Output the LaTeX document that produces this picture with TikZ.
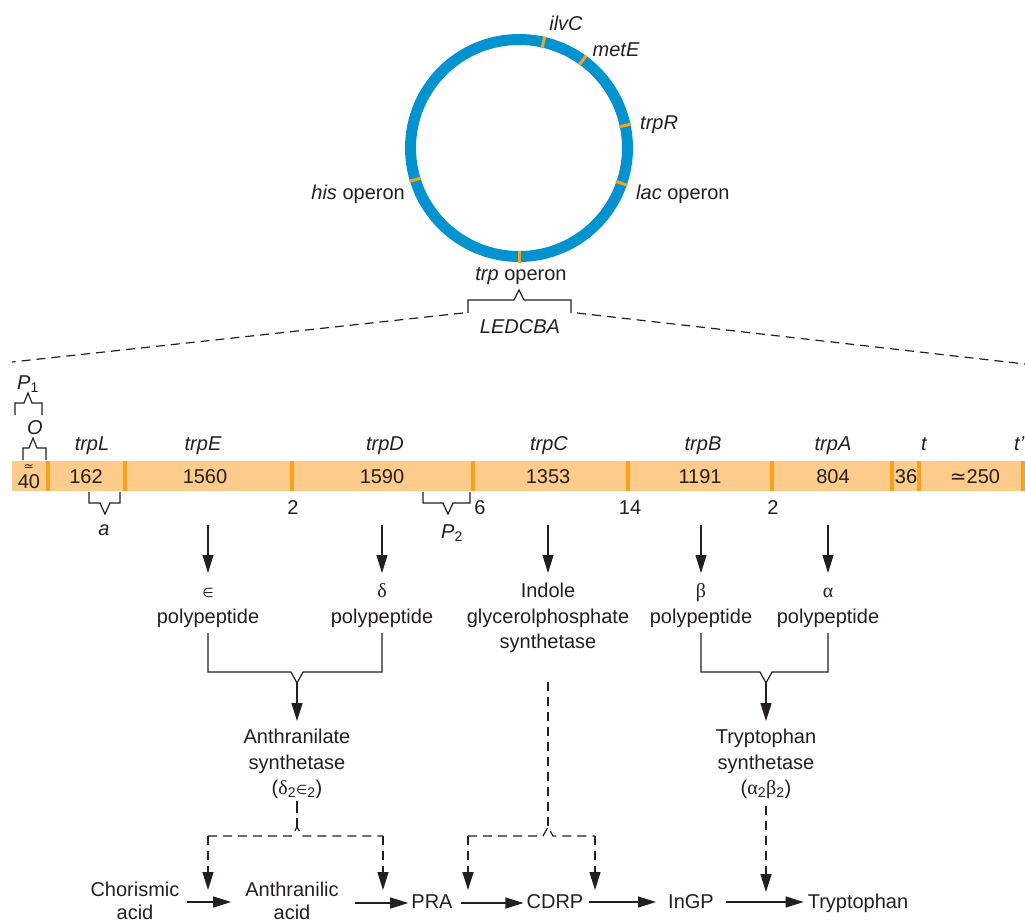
\documentclass[tikz,border=0pt]{standalone}
\usepackage{fontspec}
\setmainfont{Liberation Sans}
\newfontfamily\grk{Liberation Serif}
\newfontfamily\symf{DejaVu Sans}
\usetikzlibrary{arrows.meta}
\definecolor{ink}{HTML}{231F20}
\definecolor{ringblue}{HTML}{0093D0}
\definecolor{markorange}{HTML}{F7A21B}
\definecolor{barfill}{HTML}{FDCB8A}
\newcommand\ElemSym{{\symf\fontsize{13}{13}\selectfont ∈}}
\tikzset{
  txt/.style={text=ink, font=\fontsize{20}{24}\selectfont, inner sep=0pt, anchor=base},
  gene/.style={txt, font=\fontsize{20}{24}\selectfont\itshape},
  ln/.style={draw=ink, line width=1.2pt},
  dln/.style={ln, dash pattern=on 9pt off 6pt},
  arr/.style={ln, -{Triangle[length=18pt,width=11pt]}},
  darr/.style={arr, dash pattern=on 9pt off 6pt},
  divider/.style={draw=markorange, line width=4.5pt},
  locus/.style={draw=markorange, line width=3pt},
}
\begin{document}
\begin{tikzpicture}[x=1pt,y=-1pt]
\useasboundingbox (0,0) rectangle (1025,923);

% ---- circular chromosome ----
\coordinate (c) at (519,148);
\draw[ringblue, line width=11pt] (c) circle[radius=108.5pt];
\foreach \a in {-77,-54,-12,19,90,163}
  \draw[locus] ([shift={(\a:102.5)}]c) -- ([shift={(\a:114.5)}]c);

\node[gene] (ilvc) at (566,31) {ilvC};
\node[gene] (mete) at (616,57) {metE};
\node[gene, anchor=base west] (trpr) at (640,129) {trpR};
\node[txt, anchor=base west] (lac) at (636,199) {\textit{lac} operon};
\node[txt, anchor=base east] (his) at (405,199) {\textit{his} operon};
\node[txt] (trpop) at (521,280) {\textit{trp} operon};
\node[gene] (ledcba) at (520,333) {LEDCBA};

% bracket under the trp operon and the expansion lines
\coordinate (bl) at (468,313);
\coordinate (br) at (571,313);
\draw[ln] (bl) -- (468,300) -- (514,300) -- (519,290) -- (524,300) -- (571,300) -- (br);
\coordinate (fl) at (12,362);
\coordinate (fr) at (1025,364);
\draw[dln] ([xshift=-5]bl) -- (fl);
\draw[dln] ([xshift=6]br) -- (fr);

% ---- operon bar ----
\fill[barfill] (12,461) rectangle (1025,491);
\foreach \x in {48,125,292,473,628,772,892,919,1023}
  \draw[divider] (\x,461) -- (\x,491);

% gene names
\node[gene] (lL) at (92,450) {trpL};
\node[gene] (lE) at (203,450) {trpE};
\node[gene] (lD) at (385,450) {trpD};
\node[gene] (lC) at (549,450) {trpC};
\node[gene] (lB) at (703,450) {trpB};
\node[gene] (lA) at (833,450) {trpA};
\node[gene] (lt) at (924,450) {t};
\node[gene, anchor=base west] (ltp) at (1014,450) {t'};

% segment lengths
\node[txt, font=\fontsize{12}{12}\selectfont\symf] (approx40) at (29,470) {≃};
\node[txt] (n40) at (29,488) {40};
\node[txt] (n162) at (86,483) {162};
\node[txt] (n1560) at (205,483) {1560};
\node[txt] (n1590) at (382,483) {1590};
\node[txt] (n1353) at (548,483) {1353};
\node[txt] (n1191) at (700,483) {1191};
\node[txt] (n804) at (833,483) {804};
\node[txt] (n36) at (906,483) {36};
\node[txt] (n250) at (975,483) {{\symf ≃}250};

% spacers below the bar
\node[txt] (s2a) at (293,514) {2};
\node[txt] (s6) at (480,514) {6};
\node[txt] (s14) at (630,514) {14};
\node[txt] (s2b) at (773,514) {2};

% promoter / operator / attenuator braces
\node[gene] (p1) at (28,389) {P\textsubscript{\upshape 1}};
\draw[ln] (15,415) -- (15,403) -- (24,403) -- (28,393) -- (32,403) -- (42,403) -- (42,415);
\node[gene] (op) at (35,434) {O};
\draw[ln] (23,460) -- (23,448) -- (29,448) -- (33,438) -- (37,448) -- (46,448) -- (46,460);
\draw[ln] (89,492) -- (89,503) -- (100,503) -- (105,514) -- (110,503) -- (120,503) -- (120,492);
\node[gene] (att) at (104,535) {a};
\draw[ln] (423,492) -- (423,503) -- (443,503) -- (448,514) -- (453,503) -- (470,503) -- (470,492);
\node[gene] (p2) at (452,538) {P\textsubscript{\upshape 2}};

% ---- gene products ----
\foreach \x/\n in {208/gE,382/gD,548/gC,701/gB,828/gA} {
  \coordinate (\n) at (\x,525);
  \draw[arr] (\n) -- ++(0,48);
}
\node[txt] (epsS) at (208,597) {\ElemSym};
\node[txt] (epsP) at (208,623) {polypeptide};
\node[txt] (delS) at (382,597) {\grk δ};
\node[txt] (delP) at (382,623) {polypeptide};
\node[txt] (ind1) at (548,597) {Indole};
\node[txt] (ind2) at (548,623) {glycerolphosphate};
\node[txt] (ind3) at (548,648) {synthetase};
\node[txt] (betS) at (701,597) {\grk β};
\node[txt] (betP) at (701,623) {polypeptide};
\node[txt] (alpS) at (828,597) {\grk α};
\node[txt] (alpP) at (828,623) {polypeptide};

% anthranilate synthetase assembly
\coordinate (jAS) at (297,683);
\draw[ln] (208,633) -- (208,672) -- (291,672) -- (jAS) -- (303,672) -- (382,672) -- (382,633);
\draw[arr] (jAS) -- (297,721);
\node[txt] (as1) at (297,743) {Anthranilate};
\node[txt] (as2) at (297,769) {synthetase};
\node[txt] (as3) at (297,794) {({\grk δ}\textsubscript{2}\ElemSym\textsubscript{2})};

% tryptophan synthetase assembly
\coordinate (jTS) at (766,683);
\draw[ln] (701,633) -- (701,672) -- (760,672) -- (jTS) -- (772,672) -- (828,672) -- (828,633);
\draw[arr] (jTS) -- (766,721);
\node[txt] (ts1) at (766,743) {Tryptophan};
\node[txt] (ts2) at (766,769) {synthetase};
\node[txt] (ts3) at (766,794) {({\grk α}\textsubscript{2}{\grk β}\textsubscript{2})};

% ---- pathway ----
\node[txt] (cho1) at (135,896) {Chorismic};
\node[txt] (cho2) at (135,919) {acid};
\node[txt] (ant1) at (292,896) {Anthranilic};
\node[txt] (ant2) at (292,919) {acid};
\node[txt] (pra) at (432,908) {PRA};
\node[txt] (cdrp) at (555,908) {CDRP};
\node[txt] (ingp) at (691,908) {InGP};
\node[txt] (trp) at (858,908) {Tryptophan};

\draw[arr] ([shift={(7,6)}]cho1.base east) -- ([shift={(-14,6)}]ant1.base west);
\draw[arr] ([shift={(16,7)}]ant1.base east) -- ([shift={(-3,-5)}]pra.base west);
\draw[arr] ([shift={(8,-5)}]pra.base east) -- ([shift={(-3,-5)}]cdrp.base west);
\draw[arr] ([shift={(5,-6)}]cdrp.base east) -- ([shift={(-12,-6)}]ingp.base west);
\draw[arr] ([shift={(12,-6)}]ingp.base east) -- ([shift={(-4,-6)}]trp.base west);

% enzyme action (dashed)
\coordinate (jAA) at (297,827);
\draw[ln] (297,801) -- (297,813);
\draw[ln] (297,818) -- (jAA);
\draw[dln] (208,836) -- (292,836) -- (jAA) -- (302,836) -- (383,836);
\draw[darr] (208,836) -- (208,890);
\draw[darr] (383,836) -- (383,890);

\coordinate (jIG) at (548,827);
\draw[dln] (548,682) -- (jIG);
\draw[dln] (468,836) -- (543,836) -- (jIG) -- (553,836) -- (595,836);
\draw[darr] (468,836) -- (468,890);
\draw[darr] (595,836) -- (595,890);

\draw[darr] (766,806) -- (766,892);
\end{tikzpicture}
\end{document}
